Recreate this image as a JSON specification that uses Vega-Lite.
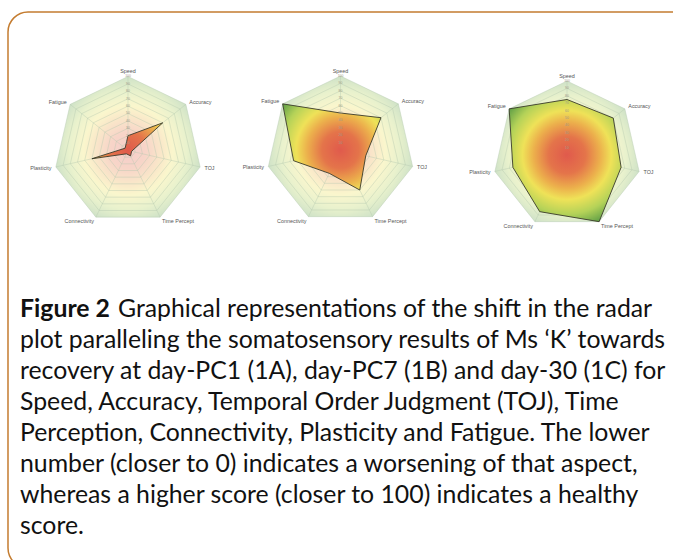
{
  "$schema": "https://vega.github.io/schema/vega-lite/v6.json",
  "width": 684,
  "height": 556,
  "autosize": {"type": "none"},
  "padding": {"left": 8, "top": 12, "right": 0, "bottom": 0},
  "background": "#ffffff",
  "config": {"view": {"stroke": "#c47c30", "strokeWidth": 1.5, "cornerRadius": 20}},
  "datasets": {
    "scores": [
      {"panel": "1A", "axis": "Speed", "value": 20},
      {"panel": "1A", "axis": "Accuracy", "value": 60},
      {"panel": "1A", "axis": "TOJ", "value": 5},
      {"panel": "1A", "axis": "Time Percept", "value": 8},
      {"panel": "1A", "axis": "Connectivity", "value": 5},
      {"panel": "1A", "axis": "Plasticity", "value": 50},
      {"panel": "1A", "axis": "Fatigue", "value": 5},
      {"panel": "1B", "axis": "Speed", "value": 50},
      {"panel": "1B", "axis": "Accuracy", "value": 70},
      {"panel": "1B", "axis": "TOJ", "value": 35},
      {"panel": "1B", "axis": "Time Percept", "value": 60},
      {"panel": "1B", "axis": "Connectivity", "value": 35},
      {"panel": "1B", "axis": "Plasticity", "value": 65},
      {"panel": "1B", "axis": "Fatigue", "value": 100},
      {"panel": "1C", "axis": "Speed", "value": 75},
      {"panel": "1C", "axis": "Accuracy", "value": 80},
      {"panel": "1C", "axis": "TOJ", "value": 75},
      {"panel": "1C", "axis": "Time Percept", "value": 100},
      {"panel": "1C", "axis": "Connectivity", "value": 85},
      {"panel": "1C", "axis": "Plasticity", "value": 75},
      {"panel": "1C", "axis": "Fatigue", "value": 100}
    ],
    "grid": [
      {"axis": "Speed", "levels": [10, 20, 30, 40, 50, 60, 70, 80, 90, 100]},
      {"axis": "Accuracy", "levels": [10, 20, 30, 40, 50, 60, 70, 80, 90, 100]},
      {"axis": "TOJ", "levels": [10, 20, 30, 40, 50, 60, 70, 80, 90, 100]},
      {"axis": "Time Percept", "levels": [10, 20, 30, 40, 50, 60, 70, 80, 90, 100]},
      {"axis": "Connectivity", "levels": [10, 20, 30, 40, 50, 60, 70, 80, 90, 100]},
      {"axis": "Plasticity", "levels": [10, 20, 30, 40, 50, 60, 70, 80, 90, 100]},
      {"axis": "Fatigue", "levels": [10, 20, 30, 40, 50, 60, 70, 80, 90, 100]}
    ],
    "caption": [
      {"line": 1, "text": "Graphical representations of the shift in the radar"},
      {"line": 2, "text": "plot paralleling the somatosensory results of Ms ‘K’ towards"},
      {"line": 3, "text": "recovery at day-PC1 (1A), day-PC7 (1B) and day-30 (1C) for"},
      {"line": 4, "text": "Speed, Accuracy, Temporal Order Judgment (TOJ), Time"},
      {"line": 5, "text": "Perception, Connectivity, Plasticity and Fatigue. The lower"},
      {"line": 6, "text": "number (closer to 0) indicates a worsening of that aspect,"},
      {"line": 7, "text": "whereas a higher score (closer to 100) indicates a healthy"},
      {"line": 8, "text": "score."}
    ],
    "figlabel": [{"line": 1, "text": "Figure 2"}]
  },
  "resolve": {"scale": {"x": "independent", "y": "independent"}},
  "layer": [
    {
      "encoding": {
        "x": {"field": "px", "type": "quantitative", "scale": {"domain": [-162.16, 762.16], "nice": false, "zero": false}, "axis": null},
        "y": {"field": "py", "type": "quantitative", "scale": {"domain": [-564.19, 187.16], "nice": false, "zero": false}, "axis": null}
      },
      "layer": [
        {
          "data": {"name": "grid"},
          "transform": [
            {"flatten": ["levels"], "as": ["level"]},
            {"filter": "datum.level == 100"},
            {"calculate": "indexof(['Speed','Accuracy','TOJ','Time Percept','Connectivity','Plasticity','Fatigue'], datum.axis)", "as": "k"},
            {"calculate": "datum.level * sin(datum.k * 2 * PI / 7)", "as": "px"},
            {"calculate": "datum.level * cos(datum.k * 2 * PI / 7)", "as": "py"}
          ],
          "mark": {"type": "line", "interpolate": "linear-closed", "strokeWidth": 0, "fillOpacity": 0.3,
            "fill": {"gradient": "radial", "x1": 0.5, "y1": 0.5254, "r1": 0, "x2": 0.5, "y2": 0.5254, "r2": 0.5129,
              "stops": [{"offset": 0, "color": "#e05a4c"}, {"offset": 0.25, "color": "#e4744a"}, {"offset": 0.45, "color": "#ecb04c"}, {"offset": 0.6, "color": "#efe258"}, {"offset": 0.8, "color": "#b4d258"}, {"offset": 1, "color": "#5e9e46"}]}},
          "encoding": {"order": {"field": "k", "type": "quantitative"}}
        },
        {
          "data": {"name": "grid"},
          "transform": [
            {"flatten": ["levels"], "as": ["level"]},
            {"calculate": "indexof(['Speed','Accuracy','TOJ','Time Percept','Connectivity','Plasticity','Fatigue'], datum.axis)", "as": "k"},
            {"calculate": "datum.level * sin(datum.k * 2 * PI / 7)", "as": "px"},
            {"calculate": "datum.level * cos(datum.k * 2 * PI / 7)", "as": "py"}
          ],
          "mark": {"type": "line", "interpolate": "linear-closed", "stroke": "#b4c8ae", "strokeWidth": 0.5, "strokeOpacity": 0.8},
          "encoding": {"detail": {"field": "level", "type": "nominal"}, "order": {"field": "k", "type": "quantitative"}}
        },
        {
          "data": {"name": "grid"},
          "transform": [
            {"flatten": ["levels"], "as": ["level"]},
            {"filter": "datum.level == 100"},
            {"calculate": "indexof(['Speed','Accuracy','TOJ','Time Percept','Connectivity','Plasticity','Fatigue'], datum.axis)", "as": "k"},
            {"calculate": "datum.level * sin(datum.k * 2 * PI / 7)", "as": "px"},
            {"calculate": "datum.level * cos(datum.k * 2 * PI / 7)", "as": "py"}
          ],
          "mark": {"type": "rule", "stroke": "#b4c8ae", "strokeWidth": 0.5, "strokeOpacity": 0.8},
          "encoding": {"x2": {"datum": 0}, "y2": {"datum": 0}}
        },
        {
          "data": {"name": "scores"},
          "transform": [
            {"filter": "datum.panel == '1A'"},
            {"calculate": "indexof(['Speed','Accuracy','TOJ','Time Percept','Connectivity','Plasticity','Fatigue'], datum.axis)", "as": "k"},
            {"calculate": "datum.value * sin(datum.k * 2 * PI / 7)", "as": "px"},
            {"calculate": "datum.value * cos(datum.k * 2 * PI / 7)", "as": "py"}
          ],
          "mark": {"type": "line", "interpolate": "linear-closed", "stroke": "#3a3a2a", "strokeWidth": 0.9,
            "fill": {"gradient": "radial", "x1": 0.5094, "y1": 0.6376, "r1": 0, "x2": 0.5094, "y2": 0.6376, "r2": 1.046,
              "stops": [{"offset": 0, "color": "#e05a4c"}, {"offset": 0.25, "color": "#e4744a"}, {"offset": 0.45, "color": "#ecb04c"}, {"offset": 0.6, "color": "#efe258"}, {"offset": 0.8, "color": "#b4d258"}, {"offset": 1, "color": "#5e9e46"}]}},
          "encoding": {"order": {"field": "k", "type": "quantitative"}}
        },
        {
          "data": {"name": "grid"},
          "transform": [
            {"flatten": ["levels"], "as": ["level"]},
            {"filter": "datum.axis == 'Speed'"},
            {"calculate": "0", "as": "px"},
            {"calculate": "datum.level", "as": "py"}
          ],
          "mark": {"type": "text", "font": "Liberation Sans", "fontSize": 3.4, "color": "#a09a88", "baseline": "middle"},
          "encoding": {"text": {"field": "level", "type": "quantitative"}}
        },
        {
          "data": {"name": "grid"},
          "transform": [
            {"flatten": ["levels"], "as": ["level"]},
            {"filter": "datum.level == 100"},
            {"calculate": "indexof(['Speed','Accuracy','TOJ','Time Percept','Connectivity','Plasticity','Fatigue'], datum.axis)", "as": "k"},
            {"calculate": "(datum.k == 0 ? 107 : 106) * sin(datum.k * 2 * PI / 7)", "as": "px"},
            {"calculate": "(datum.k == 0 ? 107 : 106) * cos(datum.k * 2 * PI / 7)", "as": "py"}
          ],
          "layer": [
            {"transform": [{"filter": "datum.k == 0"}], "mark": {"type": "text", "font": "Liberation Sans", "fontSize": 5.4, "color": "#555555", "align": "center", "baseline": "middle"}, "encoding": {"text": {"field": "axis"}}},
            {"transform": [{"filter": "datum.k >= 1 && datum.k <= 3"}], "mark": {"type": "text", "font": "Liberation Sans", "fontSize": 5.4, "color": "#555555", "align": "left", "baseline": "middle"}, "encoding": {"text": {"field": "axis"}}},
            {"transform": [{"filter": "datum.k >= 4"}], "mark": {"type": "text", "font": "Liberation Sans", "fontSize": 5.4, "color": "#555555", "align": "right", "baseline": "middle"}, "encoding": {"text": {"field": "axis"}}}
          ]
        },
        {
          "data": {"values": [{"panel": "1A"}]},
          "mark": {"type": "text", "font": "Liberation Sans", "fontSize": 3.6, "color": "#777777", "baseline": "middle"},
          "encoding": {"x": {"datum": 0}, "y": {"datum": -130}, "text": {"field": "panel"}}
        }
      ]
    },
    {
      "encoding": {
        "x": {"field": "px", "type": "quantitative", "scale": {"domain": [-449.32, 475.0], "nice": false, "zero": false}, "axis": null},
        "y": {"field": "py", "type": "quantitative", "scale": {"domain": [-564.86, 186.49], "nice": false, "zero": false}, "axis": null}
      },
      "layer": [
        {
          "data": {"name": "grid"},
          "transform": [
            {"flatten": ["levels"], "as": ["level"]},
            {"filter": "datum.level == 100"},
            {"calculate": "indexof(['Speed','Accuracy','TOJ','Time Percept','Connectivity','Plasticity','Fatigue'], datum.axis)", "as": "k"},
            {"calculate": "datum.level * sin(datum.k * 2 * PI / 7)", "as": "px"},
            {"calculate": "datum.level * cos(datum.k * 2 * PI / 7)", "as": "py"}
          ],
          "mark": {"type": "line", "interpolate": "linear-closed", "strokeWidth": 0, "fillOpacity": 0.3,
            "fill": {"gradient": "radial", "x1": 0.5, "y1": 0.5254, "r1": 0, "x2": 0.5, "y2": 0.5254, "r2": 0.5129,
              "stops": [{"offset": 0, "color": "#e05a4c"}, {"offset": 0.25, "color": "#e4744a"}, {"offset": 0.45, "color": "#ecb04c"}, {"offset": 0.6, "color": "#efe258"}, {"offset": 0.8, "color": "#b4d258"}, {"offset": 1, "color": "#5e9e46"}]}},
          "encoding": {"order": {"field": "k", "type": "quantitative"}}
        },
        {
          "data": {"name": "grid"},
          "transform": [
            {"flatten": ["levels"], "as": ["level"]},
            {"calculate": "indexof(['Speed','Accuracy','TOJ','Time Percept','Connectivity','Plasticity','Fatigue'], datum.axis)", "as": "k"},
            {"calculate": "datum.level * sin(datum.k * 2 * PI / 7)", "as": "px"},
            {"calculate": "datum.level * cos(datum.k * 2 * PI / 7)", "as": "py"}
          ],
          "mark": {"type": "line", "interpolate": "linear-closed", "stroke": "#b4c8ae", "strokeWidth": 0.5, "strokeOpacity": 0.8},
          "encoding": {"detail": {"field": "level", "type": "nominal"}, "order": {"field": "k", "type": "quantitative"}}
        },
        {
          "data": {"name": "grid"},
          "transform": [
            {"flatten": ["levels"], "as": ["level"]},
            {"filter": "datum.level == 100"},
            {"calculate": "indexof(['Speed','Accuracy','TOJ','Time Percept','Connectivity','Plasticity','Fatigue'], datum.axis)", "as": "k"},
            {"calculate": "datum.level * sin(datum.k * 2 * PI / 7)", "as": "px"},
            {"calculate": "datum.level * cos(datum.k * 2 * PI / 7)", "as": "py"}
          ],
          "mark": {"type": "rule", "stroke": "#b4c8ae", "strokeWidth": 0.5, "strokeOpacity": 0.8},
          "encoding": {"x2": {"datum": 0}, "y2": {"datum": 0}}
        },
        {
          "data": {"name": "scores"},
          "transform": [
            {"filter": "datum.panel == '1B'"},
            {"calculate": "indexof(['Speed','Accuracy','TOJ','Time Percept','Connectivity','Plasticity','Fatigue'], datum.axis)", "as": "k"},
            {"calculate": "datum.value * sin(datum.k * 2 * PI / 7)", "as": "px"},
            {"calculate": "datum.value * cos(datum.k * 2 * PI / 7)", "as": "py"}
          ],
          "mark": {"type": "line", "interpolate": "linear-closed", "stroke": "#3a3a2a", "strokeWidth": 0.9,
            "fill": {"gradient": "radial", "x1": 0.5882, "y1": 0.5312, "r1": 0, "x2": 0.5882, "y2": 0.5312, "r2": 0.7524,
              "stops": [{"offset": 0, "color": "#e05a4c"}, {"offset": 0.25, "color": "#e4744a"}, {"offset": 0.45, "color": "#ecb04c"}, {"offset": 0.6, "color": "#efe258"}, {"offset": 0.8, "color": "#b4d258"}, {"offset": 1, "color": "#5e9e46"}]}},
          "encoding": {"order": {"field": "k", "type": "quantitative"}}
        },
        {
          "data": {"name": "grid"},
          "transform": [
            {"flatten": ["levels"], "as": ["level"]},
            {"filter": "datum.axis == 'Speed'"},
            {"calculate": "0", "as": "px"},
            {"calculate": "datum.level", "as": "py"}
          ],
          "mark": {"type": "text", "font": "Liberation Sans", "fontSize": 3.4, "color": "#a09a88", "baseline": "middle"},
          "encoding": {"text": {"field": "level", "type": "quantitative"}}
        },
        {
          "data": {"name": "grid"},
          "transform": [
            {"flatten": ["levels"], "as": ["level"]},
            {"filter": "datum.level == 100"},
            {"calculate": "indexof(['Speed','Accuracy','TOJ','Time Percept','Connectivity','Plasticity','Fatigue'], datum.axis)", "as": "k"},
            {"calculate": "(datum.k == 0 ? 107 : 106) * sin(datum.k * 2 * PI / 7)", "as": "px"},
            {"calculate": "(datum.k == 0 ? 107 : 106) * cos(datum.k * 2 * PI / 7)", "as": "py"}
          ],
          "layer": [
            {"transform": [{"filter": "datum.k == 0"}], "mark": {"type": "text", "font": "Liberation Sans", "fontSize": 5.4, "color": "#555555", "align": "center", "baseline": "middle"}, "encoding": {"text": {"field": "axis"}}},
            {"transform": [{"filter": "datum.k >= 1 && datum.k <= 3"}], "mark": {"type": "text", "font": "Liberation Sans", "fontSize": 5.4, "color": "#555555", "align": "left", "baseline": "middle"}, "encoding": {"text": {"field": "axis"}}},
            {"transform": [{"filter": "datum.k >= 4"}], "mark": {"type": "text", "font": "Liberation Sans", "fontSize": 5.4, "color": "#555555", "align": "right", "baseline": "middle"}, "encoding": {"text": {"field": "axis"}}}
          ]
        },
        {
          "data": {"values": [{"panel": "1B"}]},
          "mark": {"type": "text", "font": "Liberation Sans", "fontSize": 3.6, "color": "#777777", "baseline": "middle"},
          "encoding": {"x": {"datum": 0}, "y": {"datum": -130}, "text": {"field": "panel"}}
        }
      ]
    },
    {
      "encoding": {
        "x": {"field": "px", "type": "quantitative", "scale": {"domain": [-755.41, 168.91], "nice": false, "zero": false}, "axis": null},
        "y": {"field": "py", "type": "quantitative", "scale": {"domain": [-558.11, 193.24], "nice": false, "zero": false}, "axis": null}
      },
      "layer": [
        {
          "data": {"name": "grid"},
          "transform": [
            {"flatten": ["levels"], "as": ["level"]},
            {"filter": "datum.level == 100"},
            {"calculate": "indexof(['Speed','Accuracy','TOJ','Time Percept','Connectivity','Plasticity','Fatigue'], datum.axis)", "as": "k"},
            {"calculate": "datum.level * sin(datum.k * 2 * PI / 7)", "as": "px"},
            {"calculate": "datum.level * cos(datum.k * 2 * PI / 7)", "as": "py"}
          ],
          "mark": {"type": "line", "interpolate": "linear-closed", "strokeWidth": 0, "fillOpacity": 0.3,
            "fill": {"gradient": "radial", "x1": 0.5, "y1": 0.5254, "r1": 0, "x2": 0.5, "y2": 0.5254, "r2": 0.5129,
              "stops": [{"offset": 0, "color": "#e05a4c"}, {"offset": 0.25, "color": "#e4744a"}, {"offset": 0.45, "color": "#ecb04c"}, {"offset": 0.6, "color": "#efe258"}, {"offset": 0.8, "color": "#b4d258"}, {"offset": 1, "color": "#5e9e46"}]}},
          "encoding": {"order": {"field": "k", "type": "quantitative"}}
        },
        {
          "data": {"name": "grid"},
          "transform": [
            {"flatten": ["levels"], "as": ["level"]},
            {"calculate": "indexof(['Speed','Accuracy','TOJ','Time Percept','Connectivity','Plasticity','Fatigue'], datum.axis)", "as": "k"},
            {"calculate": "datum.level * sin(datum.k * 2 * PI / 7)", "as": "px"},
            {"calculate": "datum.level * cos(datum.k * 2 * PI / 7)", "as": "py"}
          ],
          "mark": {"type": "line", "interpolate": "linear-closed", "stroke": "#b4c8ae", "strokeWidth": 0.5, "strokeOpacity": 0.8},
          "encoding": {"detail": {"field": "level", "type": "nominal"}, "order": {"field": "k", "type": "quantitative"}}
        },
        {
          "data": {"name": "grid"},
          "transform": [
            {"flatten": ["levels"], "as": ["level"]},
            {"filter": "datum.level == 100"},
            {"calculate": "indexof(['Speed','Accuracy','TOJ','Time Percept','Connectivity','Plasticity','Fatigue'], datum.axis)", "as": "k"},
            {"calculate": "datum.level * sin(datum.k * 2 * PI / 7)", "as": "px"},
            {"calculate": "datum.level * cos(datum.k * 2 * PI / 7)", "as": "py"}
          ],
          "mark": {"type": "rule", "stroke": "#b4c8ae", "strokeWidth": 0.5, "strokeOpacity": 0.8},
          "encoding": {"x2": {"datum": 0}, "y2": {"datum": 0}}
        },
        {
          "data": {"name": "scores"},
          "transform": [
            {"filter": "datum.panel == '1C'"},
            {"calculate": "indexof(['Speed','Accuracy','TOJ','Time Percept','Connectivity','Plasticity','Fatigue'], datum.axis)", "as": "k"},
            {"calculate": "datum.value * sin(datum.k * 2 * PI / 7)", "as": "px"},
            {"calculate": "datum.value * cos(datum.k * 2 * PI / 7)", "as": "py"}
          ],
          "mark": {"type": "line", "interpolate": "linear-closed", "stroke": "#3a3a2a", "strokeWidth": 0.9,
            "fill": {"gradient": "radial", "x1": 0.5153, "y1": 0.4543, "r1": 0, "x2": 0.5153, "y2": 0.4543, "r2": 0.6057,
              "stops": [{"offset": 0, "color": "#e05a4c"}, {"offset": 0.25, "color": "#e4744a"}, {"offset": 0.45, "color": "#ecb04c"}, {"offset": 0.6, "color": "#efe258"}, {"offset": 0.8, "color": "#b4d258"}, {"offset": 1, "color": "#5e9e46"}]}},
          "encoding": {"order": {"field": "k", "type": "quantitative"}}
        },
        {
          "data": {"name": "grid"},
          "transform": [
            {"flatten": ["levels"], "as": ["level"]},
            {"filter": "datum.axis == 'Speed'"},
            {"calculate": "0", "as": "px"},
            {"calculate": "datum.level", "as": "py"}
          ],
          "mark": {"type": "text", "font": "Liberation Sans", "fontSize": 3.4, "color": "#a09a88", "baseline": "middle"},
          "encoding": {"text": {"field": "level", "type": "quantitative"}}
        },
        {
          "data": {"name": "grid"},
          "transform": [
            {"flatten": ["levels"], "as": ["level"]},
            {"filter": "datum.level == 100"},
            {"calculate": "indexof(['Speed','Accuracy','TOJ','Time Percept','Connectivity','Plasticity','Fatigue'], datum.axis)", "as": "k"},
            {"calculate": "(datum.k == 0 ? 107 : 106) * sin(datum.k * 2 * PI / 7)", "as": "px"},
            {"calculate": "(datum.k == 0 ? 107 : 106) * cos(datum.k * 2 * PI / 7)", "as": "py"}
          ],
          "layer": [
            {"transform": [{"filter": "datum.k == 0"}], "mark": {"type": "text", "font": "Liberation Sans", "fontSize": 5.4, "color": "#555555", "align": "center", "baseline": "middle"}, "encoding": {"text": {"field": "axis"}}},
            {"transform": [{"filter": "datum.k >= 1 && datum.k <= 3"}], "mark": {"type": "text", "font": "Liberation Sans", "fontSize": 5.4, "color": "#555555", "align": "left", "baseline": "middle"}, "encoding": {"text": {"field": "axis"}}},
            {"transform": [{"filter": "datum.k >= 4"}], "mark": {"type": "text", "font": "Liberation Sans", "fontSize": 5.4, "color": "#555555", "align": "right", "baseline": "middle"}, "encoding": {"text": {"field": "axis"}}}
          ]
        },
        {
          "data": {"values": [{"panel": "1C"}]},
          "mark": {"type": "text", "font": "Liberation Sans", "fontSize": 3.6, "color": "#777777", "baseline": "middle"},
          "encoding": {"x": {"datum": 0}, "y": {"datum": -124}, "text": {"field": "panel"}}
        }
      ]
    },
    {
      "data": {"name": "caption"},
      "encoding": {
        "x": {"datum": 0, "type": "quantitative", "scale": {"domain": [0, 1], "nice": false, "zero": false}, "axis": null},
        "y": {"field": "line", "type": "quantitative", "scale": {"domain": [-8.839, 9.096], "reverse": true, "nice": false, "zero": false}, "axis": null},
        "text": {"field": "text"}
      },
      "layer": [
        {"transform": [{"filter": "datum.line == 1"}], "mark": {"type": "text", "align": "left", "baseline": "alphabetic", "font": "Lato", "fontSize": 24.8, "color": "#111111", "dx": 110}},
        {"transform": [{"filter": "datum.line > 1"}], "mark": {"type": "text", "align": "left", "baseline": "alphabetic", "font": "Lato", "fontSize": 24.8, "color": "#111111", "dx": 12}},
        {"data": {"name": "figlabel"}, "mark": {"type": "text", "align": "left", "baseline": "alphabetic", "font": "Lato", "fontSize": 24.8, "fontWeight": "bold", "color": "#111111", "dx": 12}}
      ]
    }
  ]
}
